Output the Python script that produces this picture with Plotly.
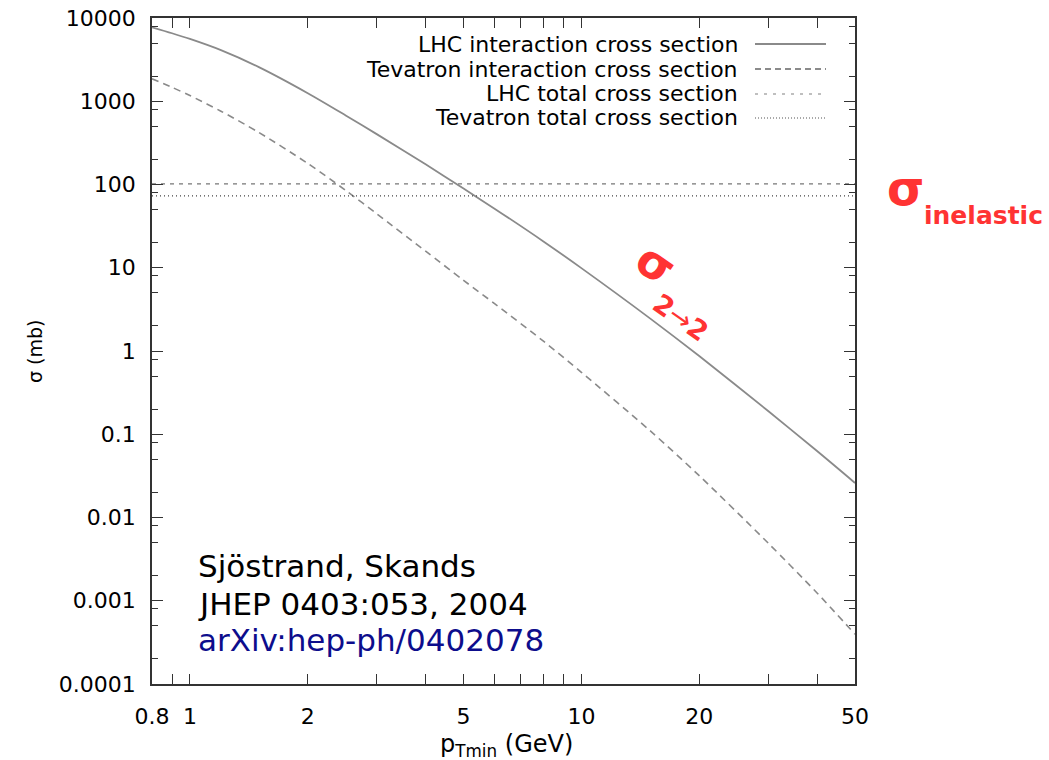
import numpy as np
import plotly.graph_objects as go

# ---------------- data ----------------
pt_min = [0.8, 0.9, 1, 1.2, 1.5, 2, 2.5, 3, 4, 5, 6, 8, 10, 15, 20, 30, 40, 50]
lhc_interaction = [7730, 6560, 5600, 4110, 2570, 1250, 676, 403, 175, 89.3, 51.3, 20.7,
                   9.9, 2.45, 0.869, 0.190, 0.0628, 0.026]
tevatron_interaction = [1860, 1470, 1170, 760, 422, 179, 85, 44.5, 15.8, 7.06, 3.71, 1.31,
                        0.555, 0.1096, 0.0318, 0.00493, 0.00124, 0.000396]
lhc_total = 101.5
tevatron_total = 73.0

x_range = [0.8, 50]
x_tick_vals = [0.8, 1, 2, 5, 10, 20, 50]
x_tick_labels = ["0.8", "1", "2", "5", "10", "20", "50"]
x_minor_vals = [0.9, 3, 4, 6, 7, 8, 9, 30, 40]
y_tick_vals = [1e-4, 1e-3, 1e-2, 1e-1, 1, 10, 100, 1000, 10000]
y_tick_labels = ["0.0001", "0.001", "0.01", "0.1", "1", "10", "100", "1000", "10000"]
y_minor_vals = [m * 10.0 ** e for e in range(-4, 4) for m in (2, 5, 8)]

legend_labels = ["LHC interaction cross section", "Tevatron interaction cross section",
                 "LHC total cross section", "Tevatron total cross section"]

FONT = "DejaVu Sans"
CURVE = "#8a8a8a"
RED = "#ff3333"
AX = "#333333"

fig = go.Figure()
fig.add_trace(go.Scatter(x=pt_min, y=lhc_interaction, mode="lines", line_shape="spline",
                         line=dict(color=CURVE, width=1.8, smoothing=0.8), showlegend=False))
fig.add_trace(go.Scatter(x=pt_min, y=tevatron_interaction, mode="lines", line_shape="spline",
                         line=dict(color=CURVE, width=1.6, dash="7px,5px", smoothing=0.8),
                         showlegend=False))
fig.add_trace(go.Scatter(x=x_range, y=[lhc_total, lhc_total], mode="lines",
                         line=dict(color="#777777", width=1.2, dash="4px,5px"), showlegend=False))
fig.add_trace(go.Scatter(x=x_range, y=[tevatron_total, tevatron_total], mode="lines",
                         line=dict(color="#444444", width=1.2, dash="1px,3px"), showlegend=False))

W, H = 1049, 760
L, R, T, B = 152, 194, 18, 76
pw, ph = W - L - R, H - T - B


def px(x):
    return (x - L) / pw


def py(y):
    return (H - B - y) / ph


# legend drawn in the gnuplot style (text right-aligned, sample on the right)
legend_rows = [44, 69, 94, 118]
legend_styles = [dict(color=CURVE, width=2, dash="solid"),
                 dict(color="#666666", width=1.3, dash="6px,4px"),
                 dict(color="#aaaaaa", width=1.5, dash="3px,6px"),
                 dict(color="#555555", width=1.2, dash="1px,2px")]
annotations = []
shapes = []
for lab, row, sty in zip(legend_labels, legend_rows, legend_styles):
    annotations.append(dict(x=px(740), y=py(row), xref="paper", yref="paper", text=lab,
                            showarrow=False, xanchor="right", yanchor="middle",
                            font=dict(family=FONT, size=22, color="black")))
    shapes.append(dict(type="line", xref="paper", yref="paper", x0=px(755), x1=px(826),
                       y0=py(row), y1=py(row), line=sty))

# axis titles
annotations.append(dict(x=px(35), y=py(352), xref="paper", yref="paper", text="σ (mb)",
                        showarrow=False, textangle=-90, xanchor="center", yanchor="middle",
                        font=dict(family=FONT, size=19, color="black")))
annotations.append(dict(x=px(506), y=py(745), xref="paper", yref="paper",
                        text="p<sub>Tmin</sub> (GeV)", showarrow=False,
                        xanchor="center", yanchor="middle",
                        font=dict(family=FONT, size=24, color="black")))

# citation
cite = [("Sjöstrand, Skands", 566, "black"),
        ("JHEP 0403:053, 2004", 604, "black"),
        ("arXiv:hep-ph/0402078", 640, "#0d0d8c")]
for txt, yy, col in cite:
    annotations.append(dict(x=px(196), y=py(yy), xref="paper", yref="paper", text=txt,
                            showarrow=False, xanchor="left", yanchor="middle",
                            font=dict(family=FONT, size=31, color=col)))

# red labels
annotations.append(dict(x=px(905), y=py(188), xref="paper", yref="paper", text="<b>σ</b>",
                        showarrow=False, xanchor="center", yanchor="middle",
                        font=dict(family=FONT, size=48, color=RED)))
annotations.append(dict(x=px(922), y=py(216), xref="paper", yref="paper", text="<b>inelastic</b>",
                        showarrow=False, xanchor="left", yanchor="middle",
                        font=dict(family=FONT, size=25, color=RED)))
annotations.append(dict(x=px(656), y=py(264), xref="paper", yref="paper", text="<b>σ</b>",
                        showarrow=False, xanchor="center", yanchor="middle", textangle=35,
                        font=dict(family=FONT, size=46, color=RED)))
annotations.append(dict(x=px(681), y=py(317), xref="paper", yref="paper",
                        text="<b>2</b>→<b>2</b>",
                        showarrow=False, xanchor="center", yanchor="middle", textangle=35,
                        font=dict(family=FONT, size=27, color=RED)))

axis_common = dict(type="log", showgrid=False, zeroline=False, showline=True,
                   linecolor=AX, linewidth=1.6, mirror="ticks", ticks="inside",
                   tickcolor=AX, tickwidth=1.4,
                   tickfont=dict(family=FONT, size=22, color="black"))

fig.update_layout(
    width=W, height=H,
    margin=dict(l=L, r=R, t=T, b=B, autoexpand=False),
    paper_bgcolor="white", plot_bgcolor="white",
    showlegend=False,
    xaxis=dict(**axis_common, range=[np.log10(x_range[0]), np.log10(x_range[1])],
               tickmode="array", tickvals=x_tick_vals, ticktext=x_tick_labels,
               ticklen=10, ticklabelstandoff=12,
               minor=dict(tickmode="array", tickvals=x_minor_vals, ticks="inside",
                          ticklen=10, tickcolor=AX, tickwidth=1.4)),
    yaxis=dict(**axis_common, range=[-4, 4], tickmode="array", tickvals=y_tick_vals,
               ticktext=y_tick_labels, ticklen=11, ticklabelstandoff=10,
               minor=dict(tickmode="array", tickvals=y_minor_vals, ticks="inside",
                          ticklen=6, tickcolor=AX, tickwidth=1.4)),
    annotations=annotations,
    shapes=shapes,
)

fig.write_html("out.html")
